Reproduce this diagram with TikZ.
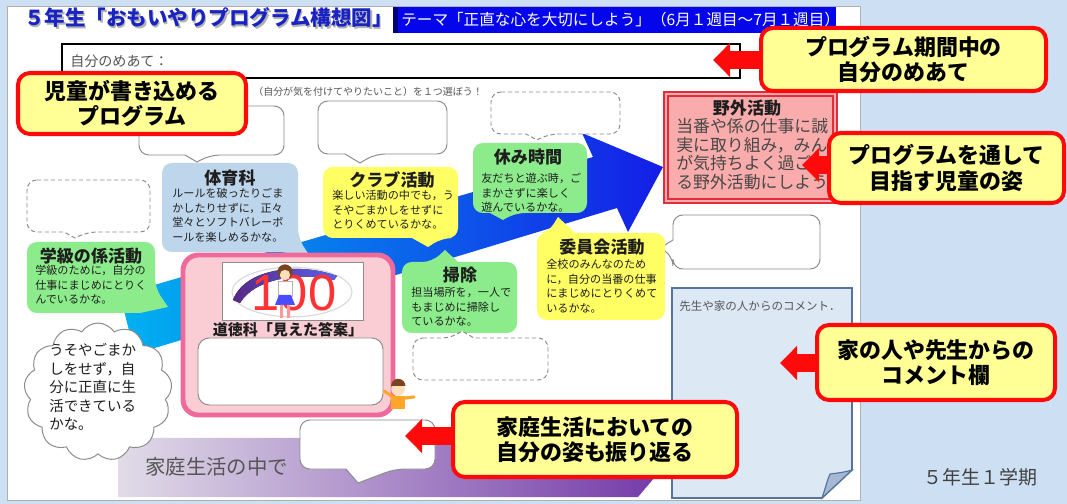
\documentclass[tikz,border=0pt]{standalone}
\usepackage{fontspec}
\usetikzlibrary{arrows.meta,fit,shapes.symbols}
\newfontfamily\jp{Noto Sans CJK JP}
\newfontfamily\latinsans{Liberation Sans}

\definecolor{bgblue}{RGB}{205,224,243}
\definecolor{pagegray}{RGB}{175,175,175}
\definecolor{titleblue}{RGB}{25,35,195}
\definecolor{themeblue}{RGB}{5,5,235}
\definecolor{themedark}{RGB}{0,0,120}
\definecolor{callfill}{RGB}{255,255,150}
\definecolor{callred}{RGB}{255,10,10}
\definecolor{bubblue}{RGB}{190,214,236}
\definecolor{bubgreen}{RGB}{140,236,140}
\definecolor{bubyellow}{RGB}{255,255,100}
\definecolor{bubline}{RGB}{140,140,140}
\definecolor{arrowcyan}{RGB}{0,178,240}
\definecolor{arrowblue}{RGB}{20,30,230}
\definecolor{lilac}{RGB}{225,220,232}
\definecolor{bandpurple}{RGB}{110,50,165}
\definecolor{outdoorfill}{RGB}{250,172,172}
\definecolor{outdoorline}{RGB}{225,45,60}
\definecolor{moralfill}{RGB}{250,205,212}
\definecolor{moralline}{RGB}{240,105,155}
\definecolor{commentfill}{RGB}{221,232,245}
\definecolor{commentline}{RGB}{85,115,155}
\definecolor{foldfill}{RGB}{165,185,212}
\definecolor{bodytext}{RGB}{30,30,30}
\definecolor{softtext}{RGB}{85,85,85}
\definecolor{hair}{RGB}{120,70,30}
\definecolor{skin}{RGB}{255,222,190}
\definecolor{shirt}{RGB}{255,165,40}

\tikzset{
  callout/.style={draw=callred, line width=2.85pt, fill=callfill, rounded corners=8.5pt, inner sep=0pt},
  callouttext/.style={font=\jp\bfseries\fontsize{15.6}{17.8}\selectfont, align=center, inner sep=0pt},
  redarrow/.style={draw=callred, line width=12.1pt, -{Triangle[length=12.1pt,width=23.5pt]}},
  btitle/.style={font=\jp\bfseries\fontsize{12.1}{14}\selectfont, inner sep=0pt, text=bodytext},
  bbody/.style={font=\jp\fontsize{7.9}{10.4}\selectfont, align=left, anchor=north west, inner sep=0pt, text=bodytext},
  bubround/.style={rounded corners=7pt},
  whitebub/.style={fill=white, draw=bubline, line width=0.7pt, rounded corners=7pt},
  dashbub/.style={fill=white, draw=bubline, line width=0.7pt, dash pattern=on 3pt off 2pt, rounded corners=7pt},
}

\begin{document}
\begin{tikzpicture}[x=0.025cm, y=-0.025cm]
\useasboundingbox (0,0) rectangle (1067,504);
% backdrop and sheet
\fill[bgblue] (0,0) rectangle (1067,504);
\draw[pagegray, fill=white, line width=0.5pt] (7,6) rectangle (860,500);

% heading
\node[anchor=west, font=\jp\bfseries\fontsize{14.6}{16}\selectfont, text=black!30, inner sep=0pt] (titleshadow) at (25.5,19.5) {５年生「おもいやりプログラム構想図」};
\node[anchor=west, font=\jp\bfseries\fontsize{14.6}{16}\selectfont, text=titleblue, inner sep=0pt] (title) at (24,18) {５年生「おもいやりプログラム構想図」};
\fill[themeblue] (393,7) rectangle (836,33);
\fill[themedark] (393,7) rectangle (398,33);
\node[anchor=west, font=\jp\fontsize{11.1}{12}\selectfont, text=white, inner sep=0pt] (theme) at (401,20) {テーマ「正直な心を大切にしよう」（6月１週目～7月１週目）};

% goal line
\draw[black, line width=1.4pt] (62,44) rectangle (740,78);
\node[anchor=west, font=\jp\fontsize{10}{12}\selectfont, text=softtext, inner sep=0pt] (goallabel) at (70,61) {自分のめあて：};
\node[anchor=west, font=\jp\fontsize{7.1}{9}\selectfont, text=softtext, inner sep=0pt] (instruction) at (253,92) {（自分が気を付けてやりたいこと）を１つ選ぼう！};

% family band
\shade[left color=lilac, right color=bandpurple] (118,438) -- (688,438) -- (638,497) -- (118,497) -- cycle;
\node[anchor=west, font=\jp\fontsize{14.5}{16}\selectfont, text=softtext, inner sep=0pt] (homelabel) at (145,467) {家庭生活の中で};

% big rising arrow
\shade[left color=arrowcyan, right color=arrowblue]
  (120,295) -- (593,157) -- (582,133) -- (663,167) -- (628,232) -- (617,208) -- (135,354) -- cycle;

% empty writing bubbles
\path[whitebub] (139,106) -- (284,106) -- (284,155) -- (210,155) [sharp corners] -- (197,162) -- (185,155) [rounded corners=7pt] -- (139,155) -- cycle;
\path[whitebub] (318,101) -- (447,101) -- (447,154) -- (375,154) [sharp corners] -- (360,163) -- (345,154) [rounded corners=7pt] -- (318,154) -- cycle;
\path[whitebub] (673,215) -- (820,215) -- (820,269) -- (673,269) -- (673,256) [sharp corners] -- (660,248) -- (673,240) [rounded corners=7pt] -- cycle;
\path[dashbub] (491,92) -- (620,92) -- (620,134) -- (548,134) [sharp corners] -- (537,140) -- (526,134) [rounded corners=7pt] -- (491,134) -- cycle;
\path[dashbub] (27,180) -- (150,180) -- (150,232) -- (87,232) [sharp corners] -- (75,238) -- (64,232) [rounded corners=7pt] -- (27,232) -- cycle;

% activity bubbles
\fill[bubblue, bubround] (162,163) -- (298,163) -- (298,238) [sharp corners] -- (311,258) -- (282,252) [rounded corners=7pt] -- (162,252) -- cycle;
\node[btitle] (pe) at (230,178) {体育科};
\node[bbody] (petext) at (172,188) {ルールを破ったりごま\\かしたりせずに，正々\\堂々とソフトバレーボ\\ールを楽しめるかな。};

\fill[bubgreen, bubround] (27,242) -- (155,242) -- (155,288) [sharp corners] -- (168,307) -- (140,313) [rounded corners=7pt] -- (27,313) -- cycle;
\node[btitle] (classjob) at (91,256) {学級の係活動};
\node[bbody] (classjobtext) at (35,265) {学級のために，自分の\\仕事にまじめにとりく\\んでいるかな。};

\fill[bubyellow, bubround] (323,167) -- (458,167) -- (458,238) -- (442,238) [sharp corners] -- (428,247) -- (412,238) [rounded corners=7pt] -- (323,238) -- cycle;
\node[btitle] (club) at (392,180) {クラブ活動};
\node[bbody] (clubtext) at (332,190) {楽しい活動の中でも，う\\そやごまかしをせずに\\とりくめているかな。};

\fill[bubgreen, bubround] (473,143) -- (587,143) -- (587,213) -- (515,213) [sharp corners] -- (503,220) -- (490,213) [rounded corners=7pt] -- (473,213) -- cycle;
\node[btitle] (recess) at (528,157) {休み時間};
\node[bbody] (recesstext) at (481,173) {友だちと遊ぶ時，ご\\まかさずに楽しく\\遊んでいるかな。};

\fill[bubyellow, bubround] (537,233) -- (548,233) [sharp corners] -- (558,217) -- (575,233) [rounded corners=7pt] -- (665,233) -- (665,320) -- (537,320) -- cycle;
\node[btitle] (committee) at (602,247) {委員会活動};
\node[bbody] (committeetext) at (546,259) {全校のみんなのため\\に，自分の当番の仕事\\にまじめにとりくめて\\いるかな。};

\fill[bubgreen, bubround] (402,262) -- (432,262) [sharp corners] -- (445,250) -- (458,262) [rounded corners=7pt] -- (517,262) -- (517,333) -- (402,333) -- cycle;
\node[btitle] (cleaning) at (460,275) {掃除};
\node[bbody] (cleaningtext) at (411,287) {担当場所を，一人で\\もまじめに掃除し\\ているかな。};

\path[dashbub] (413,338) -- (452,338) [sharp corners] -- (462,331) -- (474,338) [rounded corners=7pt] -- (548,338) -- (548,380) -- (413,380) -- cycle;

% outdoor activity goal
\fill[outdoorfill] (664,92) rectangle (837,203);
\draw[outdoorline, line width=0.8pt] (664,92) rectangle (837,203);
\draw[outdoorline, line width=0.8pt] (668,96) rectangle (833,199);
\node[btitle] (outdoor) at (747,108) {野外活動};
\node[font=\jp\fontsize{12}{13.3}\selectfont, align=left, anchor=north west, inner sep=0pt, text=black!72] (outdoortext) at (676,118) {当番や係の仕事に誠\\実に取り組み，みんな\\が気持ちよく過ごせ\\る野外活動にしよう。};

% moral education panel
\draw[moralline, fill=moralfill, line width=3.5pt, rounded corners=11pt] (183,255) rectangle (393,415);
\draw[black!45, fill=white, line width=0.6pt] (222,262) rectangle (363,320);
\draw[black!15, line width=0.8pt] (292,292) ellipse [x radius=1.5cm, y radius=0.62cm];
\fill[left color=bandpurple!80!black, right color=arrowblue!70] (233,300) .. controls (245,268) and (300,262) .. (337,276) -- (334,280) .. controls (300,272) and (255,278) .. (240,303) -- cycle;
\node[font=\latinsans\fontsize{36}{36}\selectfont, text=red!80, inner sep=0pt] (hundred) at (294,293) {100};
\fill[hair] (285,272) circle [radius=0.19cm];
\fill[skin] (285,275) circle [radius=0.13cm];
\fill[white, draw=black!30, line width=0.3pt] (278,281) rectangle (292,296);
\fill[blue!70] (279,295) -- (291,295) -- (295,305) -- (275,305) -- cycle;
\fill[pink!80!red] (280,305) rectangle (283,318) (287,305) rectangle (290,318);
\node[font=\jp\bfseries\fontsize{10.7}{12}\selectfont, text=bodytext, inner sep=0pt] (moral) at (288,330) {道徳科「見えた答案」};
\draw[bubline, fill=white, line width=0.7pt, rounded corners=8pt] (198,338) rectangle (383,405);

% small waving child
\draw[shirt, line width=2.2pt, line cap=round] (384,391) -- (396,399) -- (414,397);
\fill[shirt] (391,396) rectangle (405,409);
\fill[skin] (398,389) circle [radius=0.17cm];
\fill[hair] (391,386) arc[start angle=180, end angle=0, radius=0.18cm] -- cycle;

% self-reflection cloud
\node[cloud, cloud puffs=13, cloud puff arc=115, aspect=1, draw=bubline, fill=white, line width=0.7pt, minimum width=3.7cm, minimum height=3.45cm, inner sep=0pt] (cloudnode) at (98,392) {};
\node[font=\jp\fontsize{10.3}{13.2}\selectfont, align=left, anchor=north west, inner sep=0pt, text=bodytext] (cloudtext) at (49,343) {うそやごまか\\しをせず，自\\分に正直に生\\活できている\\かな。};

% home bubble
\path[whitebub] (300,420) -- (435,420) -- (435,469) -- (395,469) [sharp corners] -- (358,483) -- (346,469) [rounded corners=7pt] -- (300,469) -- cycle;

% comment sheet with folded corner
\path[fill=commentfill, draw=commentline, line width=1.1pt] (672,288) -- (852,288) -- (852,470) -- (822,498) -- (672,498) -- cycle;
\path[fill=foldfill, draw=commentline, line width=0.8pt] (852,470) -- (822,498) .. controls (826,486) and (828,478) .. (830,474) .. controls (838,473) and (846,472) .. (852,470) -- cycle;
\node[anchor=west, font=\jp\fontsize{8.2}{10}\selectfont, text=softtext, inner sep=0pt] (commentlabel) at (679,306) {先生や家の人からのコメント．};

% term label
\node[anchor=west, font=\jp\fontsize{13.5}{15}\selectfont, text=black!75, inner sep=0pt] (term) at (923,477) {５年生１学期};

% explanatory callouts and their pointers
\coordinate (goaltarget) at (713,60);
\coordinate (aimtarget) at (802,165);
\coordinate (commenttarget) at (780,363);
\coordinate (hometarget) at (405,436);

\node[callout, fit={(18,73) (246,134)}] (c1) {};
\node[callouttext] (c1text) at (c1.center) {児童が書き込める\\プログラム};

\node[callout, fit={(761,28) (1046,91)}] (c2) {};
\node[callouttext] (c2text) at (c2.center) {プログラム期間中の\\自分のめあて};
\draw[redarrow] (c2.west |- goaltarget) -- (goaltarget);

\node[callout, fit={(829,133) (1064,203)}] (c3) {};
\node[callouttext] (c3text) at (c3.center) {プログラムを通して\\目指す児童の姿};
\draw[redarrow] (c3.west |- aimtarget) -- (aimtarget);

\node[callout, fit={(817,325) (1055,400)}] (c4) {};
\node[callouttext] (c4text) at (c4.center) {家の人や先生からの\\コメント欄};
\draw[redarrow] (c4.west |- commenttarget) -- (commenttarget);

\node[callout, fit={(453,402) (737,477)}] (c5) {};
\node[callouttext] (c5text) at (c5.center) {家庭生活においての\\自分の姿も振り返る};
\draw[redarrow] (c5.west |- hometarget) -- (hometarget);
\end{tikzpicture}
\end{document}
